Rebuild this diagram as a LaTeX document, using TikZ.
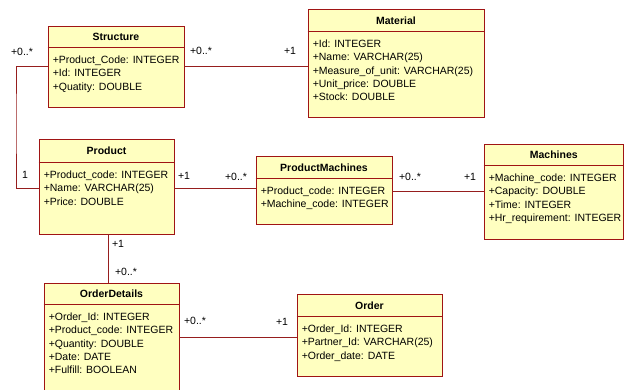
\documentclass[tikz,border=0pt]{standalone}
\usepackage{fontspec}
\setmainfont{Liberation Sans}
\definecolor{clsfill}{RGB}{255,255,192}
\definecolor{clsline}{RGB}{160,20,20}
\definecolor{assocline}{RGB}{150,30,30}
\tikzset{
  cls/.style={draw=clsline, fill=clsfill, line width=0.9pt, inner sep=0pt},
  clsname/.style={font=\fontsize{10.5}{12}\selectfont\bfseries, inner sep=0pt},
  attrs/.style={anchor=north west, inner sep=0pt, align=left, font=\fontsize{10.5}{13.4}\selectfont},
  mult/.style={font=\fontsize{10.5}{12}\selectfont, inner sep=0pt},
  assoc/.style={draw=assocline, line width=0.8pt}
}
\begin{document}
\begin{tikzpicture}[x=1pt,y=-1pt]
\useasboundingbox (0,0) rectangle (624,390);
% Structure
\node[cls, minimum width=136pt, minimum height=81pt] (structure) at (116,66.5) {};
\draw[clsline, line width=0.9pt] ([yshift=-22pt]structure.north west) -- ([yshift=-22pt]structure.north east);
\node[clsname] (structuret) at ([yshift=-11.5pt]structure.north) {Structure};
\node[attrs] (structurea) at ([xshift=5pt,yshift=-30pt]structure.north west) {+Product\_Code: INTEGER\\+Id: INTEGER\\+Quatity: DOUBLE};
% Material
\node[cls, minimum width=176pt, minimum height=107.5pt] (material) at (396,63.25) {};
\draw[clsline, line width=0.9pt] ([yshift=-22.5pt]material.north west) -- ([yshift=-22.5pt]material.north east);
\node[clsname] (materialt) at ([yshift=-11.5pt]material.north) {Material};
\node[attrs] (materiala) at ([xshift=5pt,yshift=-30.5pt]material.north west) {+Id: INTEGER\\+Name: VARCHAR(25)\\+Measure\_of\_unit: VARCHAR(25)\\+Unit\_price: DOUBLE\\+Stock: DOUBLE};
% Product
\node[cls, minimum width=135pt, minimum height=94.5pt] (product) at (106.5,186.75) {};
\draw[clsline, line width=0.9pt] ([yshift=-23.5pt]product.north west) -- ([yshift=-23.5pt]product.north east);
\node[clsname] (productt) at ([yshift=-12pt]product.north) {Product};
\node[attrs] (producta) at ([xshift=5pt,yshift=-31.5pt]product.north west) {+Product\_code: INTEGER\\+Name: VARCHAR(25)\\+Price: DOUBLE};
% ProductMachines
\node[cls, minimum width=136pt, minimum height=68pt] (pm) at (324,190) {};
\draw[clsline, line width=0.9pt] ([yshift=-23pt]pm.north west) -- ([yshift=-23pt]pm.north east);
\node[clsname] (pmt) at ([yshift=-12pt]pm.north) {ProductMachines};
\node[attrs] (pma) at ([xshift=5pt,yshift=-31pt]pm.north west) {+Product\_code: INTEGER\\+Machine\_code: INTEGER};
% Machines
\node[cls, minimum width=139.5pt, minimum height=95pt] (machines) at (553.75,191.5) {};
\draw[clsline, line width=0.9pt] ([yshift=-22pt]machines.north west) -- ([yshift=-22pt]machines.north east);
\node[clsname] (machinest) at ([yshift=-11.5pt]machines.north) {Machines};
\node[attrs] (machinesa) at ([xshift=5pt,yshift=-30pt]machines.north west) {+Machine\_code: INTEGER\\+Capacity: DOUBLE\\+Time: INTEGER\\+Hr\_requirement: INTEGER};
% OrderDetails
\node[cls, minimum width=135pt, minimum height=117pt] (orderdetails) at (111.5,341.5) {};
\draw[clsline, line width=0.9pt] ([yshift=-22pt]orderdetails.north west) -- ([yshift=-22pt]orderdetails.north east);
\node[clsname] (orderdetailst) at ([yshift=-11.5pt]orderdetails.north) {OrderDetails};
\node[attrs] (orderdetailsa) at ([xshift=5pt,yshift=-30pt]orderdetails.north west) {+Order\_Id: INTEGER\\+Product\_code: INTEGER\\+Quantity: DOUBLE\\+Date: DATE\\+Fulfill: BOOLEAN};
% Order
\node[cls, minimum width=145pt, minimum height=82pt] (order) at (369.5,335) {};
\draw[clsline, line width=0.9pt] ([yshift=-23pt]order.north west) -- ([yshift=-23pt]order.north east);
\node[clsname] (ordert) at ([yshift=-12pt]order.north) {Order};
\node[attrs] (ordera) at ([xshift=5pt,yshift=-31pt]order.north west) {+Order\_Id: INTEGER\\+Partner\_Id: VARCHAR(25)\\+Order\_date: DATE};
% associations
\coordinate (bend) at (16,120);
\draw[assoc] (structure.east) -- (structure.east -| material.west);
\draw[assoc] (structure.west) -| (bend) |- ([yshift=-2pt]product.west);
\draw[assoc] ([yshift=-2pt]product.east) -- ([yshift=-2pt]product.east -| pm.west);
\draw[assoc] ([yshift=-1pt]pm.east) -- ([yshift=-1pt]pm.east -| machines.west);
\draw[assoc] ([xshift=2pt]product.south) -- ([xshift=2pt]product.south |- orderdetails.north);
\draw[assoc] ([yshift=4.5pt]orderdetails.east) -- ([yshift=4.5pt]orderdetails.east -| order.west);
% multiplicities
\node[mult] (m1) at (22,52) {+0..*};
\node[mult] (m2) at (201,51) {+0..*};
\node[mult] (m3) at (290,51) {+1};
\node[mult] (m4) at (25,175) {1};
\node[mult] (m5) at (184,176) {+1};
\node[mult] (m6) at (236,177) {+0..*};
\node[mult] (m7) at (410,177) {+0..*};
\node[mult] (m8) at (470,177) {+1};
\node[mult] (m9) at (118,244) {+1};
\node[mult] (m10) at (126,272) {+0..*};
\node[mult] (m11) at (195,321) {+0..*};
\node[mult] (m12) at (282,322) {+1};
\end{tikzpicture}
\end{document}
